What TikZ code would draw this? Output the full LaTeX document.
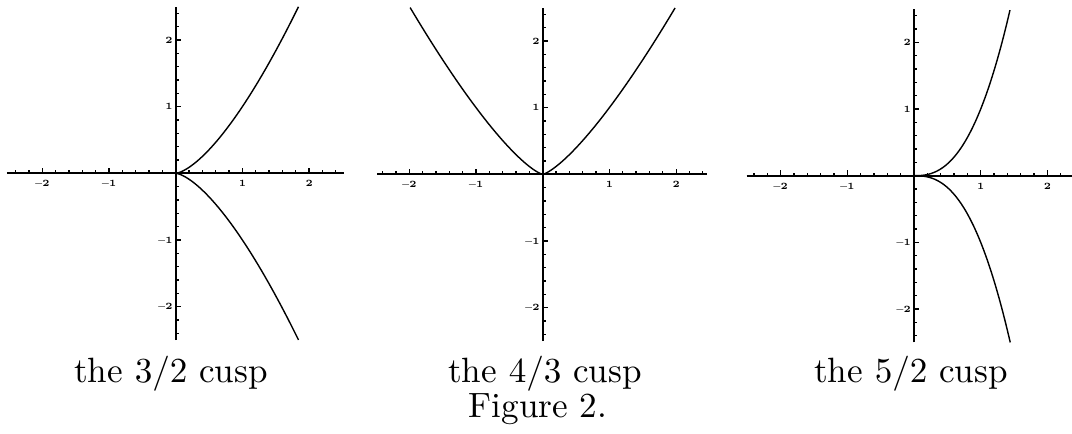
\documentclass[tikz,border=0pt]{standalone}
\usepackage{amsmath}
\usepackage{tikz}
\usetikzlibrary{positioning}
\tikzset{
  axis/.style   ={draw=black, line width=0.6pt},
  tck/.style    ={draw=black, line width=0.35pt},
  curve/.style  ={draw=black, line width=0.4pt, line join=round},
  ticklab/.style={font=\fontsize{2.7}{3}\selectfont\bfseries, inner sep=0.7pt},
  caption/.style={font=\fontsize{10}{11}\selectfont, inner sep=0pt, anchor=base},
}
% axes with ticks every 0.2 and labels at the integers
% #1 = left end of x axis, #2 = right end, #3 = last minor tick index (in fifths), #4 = tag
\newcommand{\cuspframe}[4]{%
  \draw[axis] (#1,0) -- (#2,0);
  \draw[axis] (0,-2.5) -- (0,2.5);
  \foreach \k in {-12,...,#3} {\draw[tck] (\k/5,0) -- ++(0,0.045);}
  \foreach \k in {-12,...,12} {\draw[tck] (0,\k/5) -- ++(0.045,0);}
  \foreach \k/\n/\s in {-2/m2/--2,-1/m1/--1,1/p1/1,2/p2/2} {
    \draw[tck] (\k,0) -- ++(0,0.08);
    \draw[tck] (0,\k) -- ++(0.08,0);
    \node[ticklab,below] (#4x\n) at (\k,-0.06) {\s};
    \node[ticklab,left] (#4y\n) at (0,\k) {\s};
  }
}

\begin{document}
\begin{tikzpicture}
\useasboundingbox (0,0) rectangle (10.72,4.33);

% the 3/2 cusp
\begin{scope}[shift={(1.757,2.597)}, x=0.667cm, y=0.667cm]
  \cuspframe{-2.53}{2.52}{12}{a}
  \draw[curve] plot[domain=-1.357:1.357, samples=121, variable=\t, smooth]
     ({\t*\t}, {\t*\t*\t});
\end{scope}

% the 4/3 cusp
\begin{scope}[shift={(5.427,2.587)}, x=0.667cm, y=0.667cm]
  \cuspframe{-2.48}{2.46}{12}{b}
  \draw[curve] plot[domain=-1.2574:1.2574, samples=121, variable=\t, smooth]
     ({\t*\t*\t}, {\t*\t*\t*\t});
\end{scope}

% the 5/2 cusp
\begin{scope}[shift={(9.14,2.573)}, x=0.667cm, y=0.667cm]
  \cuspframe{-2.51}{2.37}{11}{c}
  \draw[curve] plot[domain=-1.2011:1.2011, samples=121, variable=\t, smooth]
     ({\t*\t}, {\t*\t*\t*\t*\t});
\end{scope}

% captions
\node[caption] (capA) at (1.71,0.51) {the $3/2$ cusp};
\node[caption] (capB) at (5.45,0.51) {the $4/3$ cusp};
\node[caption] (capC) at (9.11,0.51) {the $5/2$ cusp};
\node[caption] (fig) at (5.38,0.16) {Figure 2.};
\end{tikzpicture}
\end{document}
